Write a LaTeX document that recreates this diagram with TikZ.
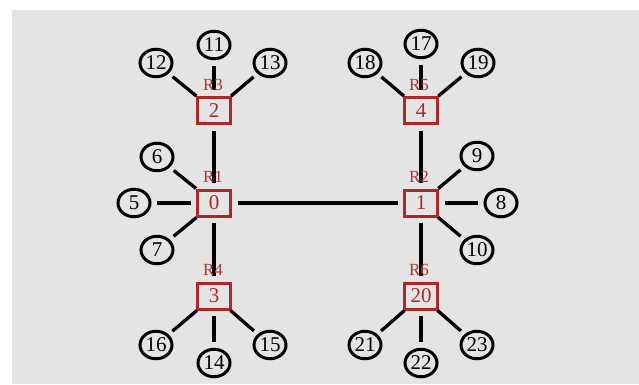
\documentclass[tikz,border=0pt]{standalone}
\usepackage{fontspec}
\setmainfont{Liberation Serif}
\usetikzlibrary{shapes.geometric}
\definecolor{bg}{RGB}{228,228,228}
\definecolor{rbox}{RGB}{170,40,40}
\definecolor{rlab}{RGB}{180,50,50}
\tikzset{
  host/.style={draw=black, line width=3pt, ellipse, minimum width=32pt, minimum height=27.5pt, inner sep=0pt, font=\fontsize{21}{21}\selectfont},
  router/.style={draw=rbox, line width=3pt, rectangle, minimum width=33pt, minimum height=26pt, inner sep=0pt, text=rbox, font=\fontsize{21}{21}\selectfont},
  rlabel/.style={text=rlab, inner sep=0pt, font=\fontsize{17}{17}\selectfont},
  link/.style={draw=black, line width=3.3pt, shorten <=5.5pt, shorten >=5.5pt},
  dlink/.style={draw=black, line width=3.3pt, shorten <=5pt, shorten >=0pt}
}
\begin{document}
\begin{tikzpicture}[x=1pt,y=-1pt]
\useasboundingbox (0,0) rectangle (639,385);
\fill[bg] (12,10) rectangle (639,384);
% routers
\node[router] (r0) at (214,203) {0};
\node[router] (r1) at (421,203) {1};
\node[router] (r2) at (214,110.5) {2};
\node[router] (r4) at (421,110.5) {4};
\node[router] (r3) at (214,296) {3};
\node[router] (r20) at (421,296) {20};
% hosts
\node[host] (h11) at (214,45) {11};
\node[host] (h12) at (156,63) {12};
\node[host] (h13) at (270,63) {13};
\node[host] (h6) at (157,157) {6};
\node[host] (h5) at (134,203) {5};
\node[host] (h7) at (157,250) {7};
\node[host] (h16) at (156,345) {16};
\node[host] (h14) at (214,363) {14};
\node[host] (h15) at (270,345) {15};
\node[host] (h17) at (421,44) {17};
\node[host] (h18) at (365,63) {18};
\node[host] (h19) at (478,63) {19};
\node[host] (h9) at (477,156) {9};
\node[host] (h8) at (501,203) {8};
\node[host] (h10) at (477,250) {10};
\node[host] (h21) at (365,345) {21};
\node[host] (h22) at (421,363) {22};
\node[host] (h23) at (477,345) {23};
% links
\draw[link] (r0) -- (r1);
\draw[link] (r2) -- (r0);
\draw[link] (r0) -- (r3);
\draw[link] (r4) -- (r1);
\draw[link] (r1) -- (r20);
\draw[link] (h11) -- (r2);
\draw[dlink] (h12) -- (r2);
\draw[dlink] (h13) -- (r2);
\draw[link] (h17) -- (r4);
\draw[dlink] (h18) -- (r4);
\draw[dlink] (h19) -- (r4);
\draw[link] (h5) -- (r0);
\draw[dlink] (h6) -- (r0);
\draw[dlink] (h7) -- (r0);
\draw[link] (h8) -- (r1);
\draw[dlink] (h9) -- (r1);
\draw[dlink] (h10) -- (r1);
\draw[link] (h14) -- (r3);
\draw[dlink] (h16) -- (r3);
\draw[dlink] (h15) -- (r3);
\draw[link] (h22) -- (r20);
\draw[dlink] (h21) -- (r20);
\draw[dlink] (h23) -- (r20);
% router labels
\node[rlabel] (l0) at (213,177) {R1};
\node[rlabel] (l1) at (419,177) {R2};
\node[rlabel] (l2) at (213,85) {R3};
\node[rlabel] (l4) at (419,85) {R5};
\node[rlabel] (l3) at (213,270) {R4};
\node[rlabel] (l20) at (419,270) {R6};
\end{tikzpicture}
\end{document}
